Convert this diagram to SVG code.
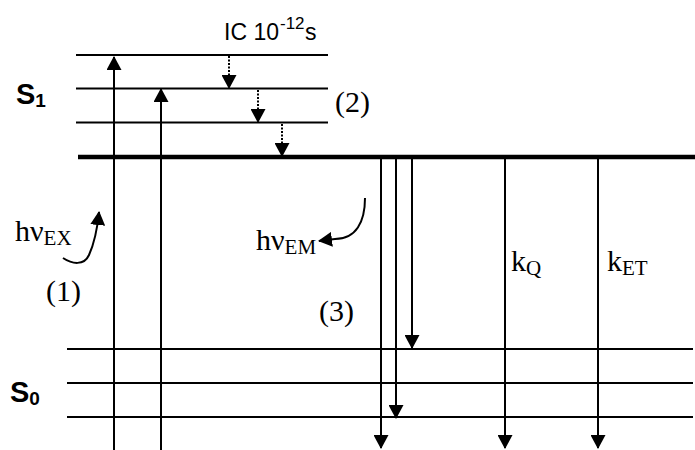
<svg xmlns="http://www.w3.org/2000/svg" width="695" height="450" viewBox="0 0 695 450">
<style>
.lvl{stroke:#000;stroke-width:2;fill:none}
.thick{stroke:#000;stroke-width:4.5;fill:none}
.arr{stroke:#000;stroke-width:2;fill:none;marker-end:url(#head)}
.dot{stroke:#000;stroke-width:2;fill:none;stroke-dasharray:2,1.5;marker-end:url(#head)}
.sans{font-family:"Liberation Sans",Arial,sans-serif;fill:#000}
.serif{font-family:"Liberation Serif","Times New Roman",serif;fill:#000;font-size:30px}
.sub{font-size:21px}
</style>
<defs>
<marker id="head" markerUnits="userSpaceOnUse" viewBox="0 0 14 15" refX="13" refY="7.5" markerWidth="14" markerHeight="15" orient="auto">
<path d="M0,0 L14,7.5 L0,15 z" fill="#000"/>
</marker>
</defs>
<rect width="695" height="450" fill="#fff"/>
<g id="S1-levels">
<line class="lvl" x1="76" y1="55" x2="328" y2="55"/>
<line class="lvl" x1="76" y1="88.5" x2="328" y2="88.5"/>
<line class="lvl" x1="76" y1="122.5" x2="328" y2="122.5"/>
<line class="thick" x1="78" y1="157" x2="695" y2="157"/>
</g>
<g id="S0-levels">
<line class="lvl" x1="67" y1="349" x2="693" y2="349"/>
<line class="lvl" x1="67" y1="383" x2="693" y2="383"/>
<line class="lvl" x1="67" y1="417" x2="693" y2="417"/>
</g>
<g id="connectors">
<line class="arr" x1="114" y1="450" x2="114" y2="57"/>
<line class="arr" x1="161" y1="450" x2="161" y2="89"/>
<line class="dot" x1="229" y1="56" x2="229" y2="88"/>
<line class="dot" x1="258" y1="90" x2="258" y2="122"/>
<line class="dot" x1="282" y1="124" x2="282" y2="156"/>
<line class="arr" x1="381" y1="159" x2="381" y2="448"/>
<line class="arr" x1="396" y1="159" x2="396" y2="418"/>
<line class="arr" x1="412" y1="159" x2="412" y2="348"/>
<line class="arr" x1="505" y1="159" x2="505" y2="448"/>
<line class="arr" x1="598" y1="159" x2="598" y2="448"/>
<path class="arr" d="M63,258 C72,264 84,266 89,255 C94,244 97,232 99,212"/>
<path class="arr" d="M365,198 C365,222 356,239 335,239 L319,241"/>
</g>
<g id="labels">
<text class="sans" x="16" y="104" font-size="29" font-weight="bold">S<tspan font-size="19" dy="3">1</tspan></text>
<text class="sans" x="10" y="402" font-size="29" font-weight="bold">S<tspan font-size="19" dy="3">0</tspan></text>
<text class="sans" font-size="23"><tspan x="224" y="40">IC 10</tspan><tspan x="280" y="29" font-size="17">-12</tspan><tspan x="305" y="40">s</tspan></text>
<text class="serif" x="335" y="112">(2)</text>
<text class="serif" x="15" y="241">hν<tspan class="sub" dy="4">EX</tspan></text>
<text class="serif" x="46" y="301">(1)</text>
<text class="serif" x="256" y="250">hν<tspan class="sub" dy="4">EM</tspan></text>
<text class="serif" x="319" y="321">(3)</text>
<text class="serif" x="511" y="271">k<tspan class="sub" dy="4">Q</tspan></text>
<text class="serif" x="607" y="271">k<tspan class="sub" dy="4">ET</tspan></text>
</g>
</svg>
